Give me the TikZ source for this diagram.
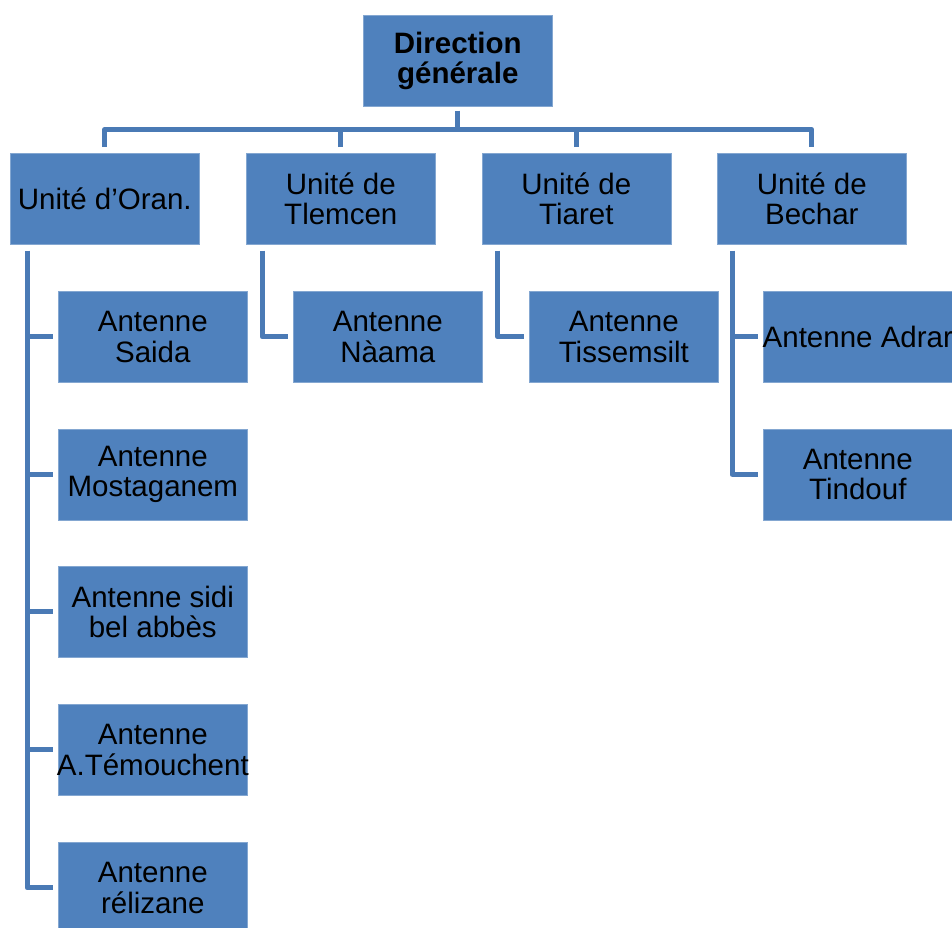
\documentclass[tikz,border=0pt]{standalone}
\usepackage{fontspec}
\setmainfont{Liberation Sans}
\definecolor{boxblue}{HTML}{4F81BD}
\definecolor{lineblue}{HTML}{4A7AB5}
\newcommand{\overtext}[1]{\makebox[0pt]{#1}}
\begin{document}
\begin{tikzpicture}[x=1pt,y=-1pt,
  box/.style={fill=boxblue, draw=boxblue!70!white, line width=0.6pt,
    minimum width=189pt, minimum height=91pt, inner sep=0pt,
    anchor=north west, align=center, font=\fontsize{29.5}{30.5}\selectfont},
  conn/.style={draw=lineblue, line width=5pt, line join=round}]
\useasboundingbox (0,0) rectangle (952,927);

\node[box, font=\bfseries\fontsize{29.5}{30.5}\selectfont] (dg) at (363,15) {Direction\\générale};

\node[box] (u1) at (10,153) {Unité d’Oran.};
\node[box] (u2) at (246,153) {Unité de\\Tlemcen};
\node[box] (u3) at (481.5,153) {Unité de\\Tiaret};
\node[box] (u4) at (717,153) {Unité de\\Bechar};

\node[box] (a1) at (58,291) {Antenne\\Saida};
\node[box] (a2) at (58,428.5) {Antenne\\Mostaganem};
\node[box] (a3) at (58,566) {Antenne sidi\\bel abbès};
\node[box] (a4) at (58,704) {Antenne\\\overtext{A.Témouchent}};
\node[box] (a5) at (58,842) {Antenne\\rélizane};

\node[box] (b1) at (293,291) {Antenne\\Nàama};
\node[box] (c1) at (529,291) {Antenne\\Tissemsilt};
\node[box] (d1) at (763,291) {\overtext{Antenne Adrar}};
\node[box] (d2) at (763,428.5) {Antenne\\Tindouf};

% top connectors
\coordinate (bus) at (0,129.5);
\draw[conn] ([yshift=-4pt]dg.south) -- (dg.south |- bus);
\draw[conn] ([yshift=6pt]u1.north) -- (u1.north |- bus) -- (u4.north |- bus) -- ([yshift=6pt]u4.north);
\draw[conn] ([yshift=6pt]u2.north) -- (u2.north |- bus);
\draw[conn] ([yshift=6pt]u3.north) -- (u3.north |- bus);

% child connectors
\coordinate (v1) at ([xshift=17pt,yshift=-6pt]u1.south west);
\coordinate (v2) at ([xshift=16pt,yshift=-6pt]u2.south west);
\coordinate (v3) at ([xshift=16pt,yshift=-6pt]u3.south west);
\coordinate (v4) at ([xshift=15pt,yshift=-6pt]u4.south west);

\draw[conn] (v1) |- ([xshift=-5pt]a5.west);
\foreach \n in {a1,a2,a3,a4}
  \draw[conn] (v1 |- \n.west) -- ([xshift=-5pt]\n.west);
\draw[conn] (v2) |- ([xshift=-5pt]b1.west);
\draw[conn] (v3) |- ([xshift=-5pt]c1.west);
\draw[conn] (v4) |- ([xshift=-5pt]d2.west);
\draw[conn] (v4 |- d1.west) -- ([xshift=-5pt]d1.west);
\end{tikzpicture}
\end{document}
